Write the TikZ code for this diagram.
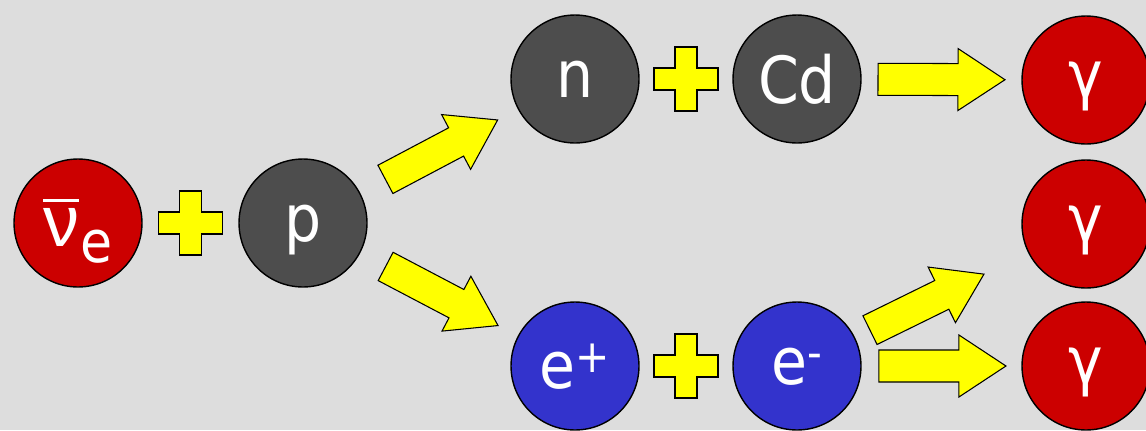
\documentclass[tikz,border=0pt]{standalone}
\usepackage{fontspec}
\setmainfont{DejaVu Sans Condensed}
\newfontfamily\nufont{Liberation Sans}
\usepackage{xcolor}
\definecolor{bgGrey}{HTML}{DDDDDD}
\definecolor{photonRed}{HTML}{CC0000}
\definecolor{nucleonGrey}{HTML}{4D4D4D}
\definecolor{leptonBlue}{HTML}{3333CC}
\definecolor{signYellow}{HTML}{FFFF00}
\newcommand{\barnu}{\leavevmode\vbox{\hrule height 1.5pt\vskip 4pt\hbox{\nufont\fontsize{41}{44}\selectfont ν}}}
\tikzset{
  particle/.style={circle, draw=black, line width=0.8pt, minimum size=2.56cm, inner sep=0pt, text=white, font=\fontsize{37}{40}\selectfont, text depth=0pt},
  photon/.style={particle, fill=photonRed},
  nucleon/.style={particle, fill=nucleonGrey},
  lepton/.style={particle, fill=leptonBlue},
  plussign/.pic={
    \draw[fill=signYellow, line width=0.6pt] (-32,-11) -- (-11,-11) -- (-11,-32) -- (11,-32) -- (11,-11) -- (32,-11)
      -- (32,11) -- (11,11) -- (11,32) -- (-11,32) -- (-11,11) -- (-32,11) -- cycle;
  },
  blockarrow/.pic={
    \draw[fill=signYellow, line width=0.6pt] (-63.5,-16) -- (16.5,-16) -- (16.5,-31) -- (63.5,0)
      -- (16.5,31) -- (16.5,16) -- (-63.5,16) -- cycle;
  }
}
\begin{document}
\begin{tikzpicture}[x=0.02cm, y=-0.02cm]
\fill[bgGrey] (0,0) rectangle (1146,430);
\useasboundingbox (0,0) rectangle (1146,430);
% reaction: antineutrino + proton
\node[photon] (nue) at (78,223) {\barnu\kern1pt\raisebox{-9pt}{\fontsize{33}{35}\selectfont e}};
\node[nucleon] (p) at (303,223) {p};
% products
\node[nucleon] (n) at (575,79) {n};
\node[nucleon] (cd) at (797,79) {Cd};
\node[lepton] (ep) at (575,366) {e\textsuperscript{+}};
\node[lepton] (em) at (797,366) {e\textsuperscript{-}};
\node[photon] (g1) at (1086,80) {γ};
\node[photon] (g2) at (1086,224) {γ};
\node[photon] (g3) at (1086,366) {γ};
% plus signs
\path (nue) -- pic[pos=0.5] {plussign} (p);
\path (n) -- pic[pos=0.5] {plussign} (cd);
\path (ep) -- pic[pos=0.5] {plussign} (em);
% yellow arrows
\path (p) -- pic[pos=0.516, sloped, allow upside down] {blockarrow} (n);
\path (p) -- pic[pos=0.518, sloped, allow upside down] {blockarrow} (ep);
\path (cd) -- pic[pos=0.5, sloped, allow upside down] {blockarrow} (g1);
\path (em) -- pic[pos=0.416, sloped, allow upside down] {blockarrow} (g2);
\path (em) -- pic[pos=0.506, sloped, allow upside down] {blockarrow} (g3);
\end{tikzpicture}
\end{document}
